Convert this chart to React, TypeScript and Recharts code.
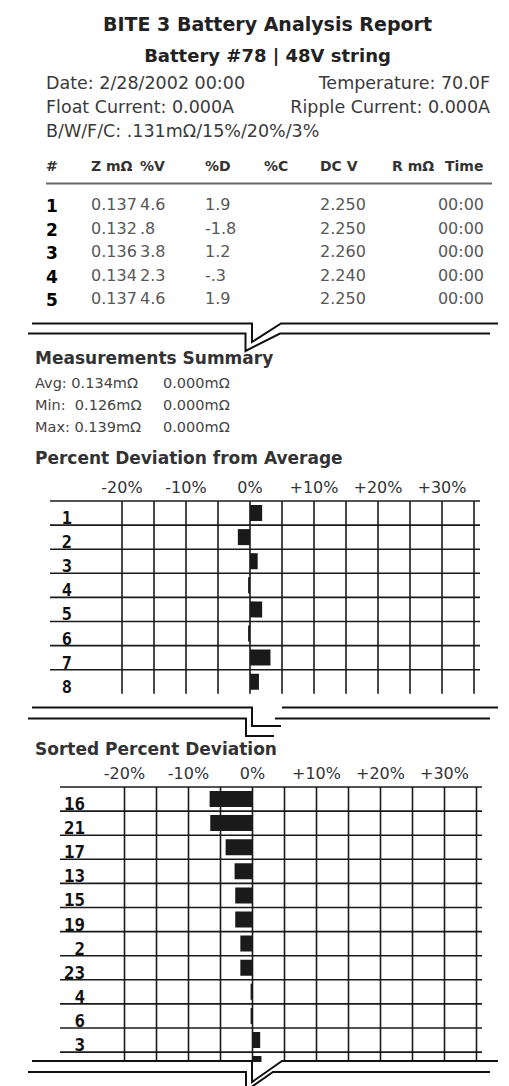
import React from 'react';
import { BarChart, Bar, XAxis, YAxis, CartesianGrid } from 'recharts';

// ---------- data ----------
const reportTitle = 'BITE 3 Battery Analysis Report';
const reportSubtitle = 'Battery #78 | 48V string';
const infoLeft = ['Date: 2/28/2002 00:00', 'Float Current: 0.000A', 'B/W/F/C: .131mΩ/15%/20%/3%'];
const infoRight = ['Temperature: 70.0F', 'Ripple Current: 0.000A'];

const tableHeaders = ['#', 'Z mΩ', '%V', '%D', '%C', 'DC V', 'R mΩ', 'Time'];
const cellNumbers = ['1', '2', '3', '4', '5'];
const impedance = ['0.137', '0.132', '0.136', '0.134', '0.137'];
const percentV = ['4.6', '.8', '3.8', '2.3', '4.6'];
const percentD = ['1.9', '-1.8', '1.2', '-.3', '1.9'];
const dcVolts = ['2.250', '2.250', '2.260', '2.240', '2.250'];
const times = ['00:00', '00:00', '00:00', '00:00', '00:00'];

const summaryTitle = 'Measurements Summary';
const summaryLabels = ['Avg: ', 'Min:  ', 'Max: '];
const summaryZ = ['0.134mΩ', '0.126mΩ', '0.139mΩ'];
const summaryR = ['0.000mΩ', '0.000mΩ', '0.000mΩ'];

const deviationTitle = 'Percent Deviation from Average';
const deviationCells = ['1', '2', '3', '4', '5', '6', '7', '8'];
const deviationValues = [1.9, -1.9, 1.2, -0.3, 1.9, -0.3, 3.2, 1.4];

const sortedTitle = 'Sorted Percent Deviation';
const sortedCells = ['16', '21', '17', '13', '15', '19', '2', '23', '4', '6', '3', '8'];
const sortedValues = [-6.7, -6.6, -4.2, -2.8, -2.7, -2.7, -1.9, -1.9, -0.3, -0.3, 1.2, 1.4];

const axisTicks = [-20, -15, -10, -5, 0, 5, 10, 15, 20, 25, 30, 35];

// ---------- styles ----------
const SANS = '"DejaVu Sans", Verdana, sans-serif';
const MONO = '"DejaVu Sans Mono", monospace';
const INK = '#1a1a1a';

const formatPct = (v: number) => (v % 10 === 0 ? (v > 0 ? '+' : '') + v + '%' : '');

type ChartProps = {
  cells: string[];
  values: number[];
  top: number;
  clipHeight?: number;
  plotLeft: number;
  plotRight: number;
  zeroX: number;
  pxPerPct: number;
  axisHeight: number;
  rowHeight: number;
  labelRight: number;
  labelSize: number;
};

function DeviationChart(p: ChartProps) {
  const data = p.cells.map((cell, i) => ({ cell, value: p.values[i] }));
  const domain: [number, number] = [
    -(p.zeroX - p.plotLeft) / p.pxPerPct,
    (p.plotRight - p.zeroX) / p.pxPerPct,
  ];
  const bottomPad = 6;
  const height = p.axisHeight + p.rowHeight * p.cells.length + bottomPad;
  const visible = p.clipHeight ?? height;
  const rowLines = p.cells.map((_, i) => p.axisHeight + i * p.rowHeight);

  const RowTick = (props: any) => {
    const baseline = props.y + p.rowHeight / 2 - 1;
    if (baseline > visible) return <g />;
    return (
      <text
        x={p.labelRight}
        y={baseline}
        textAnchor="end"
        fontFamily={MONO}
        fontWeight="bold"
        fontSize={p.labelSize}
        fill="#111"
      >
        {props.payload.value}
      </text>
    );
  };
  const PctTick = (props: any) => {
    const label = formatPct(props.payload.value);
    return (
      <text x={props.x} y={props.y} textAnchor="middle" fontFamily={SANS} fontSize={16} fill="#333">
        {label}
      </text>
    );
  };
  const verticalGen = (args: any) => {
    const sc = args && args.xAxis && args.xAxis.scale;
    return axisTicks.map((t) =>
      typeof sc === 'function' ? sc(t) : p.zeroX + t * p.pxPerPct
    );
  };

  return (
    <div
      style={{
        position: 'absolute',
        left: 0,
        top: p.top,
        width: 509,
        height: visible,
        overflow: 'hidden',
      }}
    >
      <BarChart
        width={509}
        height={height}
        data={data}
        layout="vertical"
        margin={{ top: 0, right: 509 - p.plotRight, bottom: bottomPad, left: 0 }}
      >
        <CartesianGrid
          stroke={INK}
          strokeWidth={1.6}
          horizontalPoints={rowLines}
          verticalCoordinatesGenerator={verticalGen}
        />
        <XAxis
          type="number"
          orientation="top"
          domain={domain}
          allowDataOverflow
          ticks={axisTicks}
          interval={0}
          height={p.axisHeight}
          axisLine={false}
          tickLine={false}
          tick={<PctTick />}
        />
        <YAxis
          type="category"
          dataKey="cell"
          width={p.plotLeft}
          interval={0}
          axisLine={false}
          tickLine={false}
          tick={<RowTick />}
        />
        <Bar dataKey="value" fill={INK} barSize={16} isAnimationActive={false} />
      </BarChart>
    </div>
  );
}

const headerX = [46, 91, 140, 205, 264, 320, 392, 445];

export default function App() {
  const rowBase = (i: number) => 210 + i * 23.5;
  const summaryBase = (i: number) => 388 + i * 22;
  return (
    <div
      style={{
        position: 'absolute',
        left: 0,
        top: 0,
        width: 509,
        height: 1086,
        background: '#fff',
        overflow: 'hidden',
      }}
    >
      <DeviationChart
        cells={deviationCells}
        values={deviationValues}
        top={471}
        plotLeft={50}
        plotRight={480}
        zeroX={250}
        pxPerPct={6.4}
        axisHeight={30}
        rowHeight={24.1}
        labelRight={72}
        labelSize={17}
      />
      <DeviationChart
        cells={sortedCells}
        values={sortedValues}
        top={757}
        clipHeight={305}
        plotLeft={60}
        plotRight={482}
        zeroX={252.5}
        pxPerPct={6.4}
        axisHeight={30}
        rowHeight={24.1}
        labelRight={85}
        labelSize={17.5}
      />
      <svg
        width={509}
        height={1086}
        style={{ position: 'absolute', left: 0, top: 0, pointerEvents: 'none' }}
      >
        <g fontFamily={SANS}>
          <text x={267.5} y={31} textAnchor="middle" fontWeight="bold" fontSize={19} fill="#222">
            {reportTitle}
          </text>
          <text x={267.5} y={61.5} textAnchor="middle" fontWeight="bold" fontSize={18} fill="#222">
            {reportSubtitle}
          </text>
          {infoLeft.map((t, i) => (
            <text key={'l' + i} x={46} y={89 + i * 24.2} fontSize={17.5} fill="#3a3a3a">
              {t}
            </text>
          ))}
          {infoRight.map((t, i) => (
            <text key={'r' + i} x={490} y={89 + i * 24.2} textAnchor="end" fontSize={17.5} fill="#3a3a3a">
              {t}
            </text>
          ))}
          {tableHeaders.map((h, i) => (
            <text key={'h' + i} x={headerX[i]} y={170.5} fontWeight="bold" fontSize={14} fill="#333">
              {h}
            </text>
          ))}
          <line x1={46} x2={492} y1={183.5} y2={183.5} stroke="#666" strokeWidth={2} />
          {cellNumbers.map((c, i) => (
            <g key={'row' + i}>
              <text x={46} y={rowBase(i) + 2} fontWeight="bold" fontSize={17} fill="#000">
                {c}
              </text>
              <text x={91} y={rowBase(i)} fontSize={16} fill="#585858">
                {impedance[i]}
              </text>
              <text x={140} y={rowBase(i)} fontSize={16} fill="#585858">
                {percentV[i]}
              </text>
              <text x={205} y={rowBase(i)} fontSize={16} fill="#585858">
                {percentD[i]}
              </text>
              <text x={320} y={rowBase(i)} fontSize={16} fill="#585858">
                {dcVolts[i]}
              </text>
              <text x={484} y={rowBase(i)} textAnchor="end" fontSize={16} fill="#585858">
                {times[i]}
              </text>
            </g>
          ))}
          <text x={35} y={364} fontWeight="bold" fontSize={17} fill="#333">
            {summaryTitle}
          </text>
          {summaryLabels.map((l, i) => (
            <g key={'s' + i}>
              <text x={35} y={summaryBase(i)} fontSize={14.5} fill="#444" style={{ whiteSpace: 'pre' }}>
                {l + summaryZ[i]}
              </text>
              <text x={163} y={summaryBase(i)} fontSize={14.5} fill="#444">
                {summaryR[i]}
              </text>
            </g>
          ))}
          <text x={35} y={464} fontWeight="bold" fontSize={17} fill="#333">
            {deviationTitle}
          </text>
          <text x={35} y={755} fontWeight="bold" fontSize={17} fill="#333">
            {sortedTitle}
          </text>
        </g>
        <g fill="none" stroke="#111" strokeWidth={2}>
          <path d="M32 323.5 H252 V342 L281 323.5 H498" />
          <path d="M28 333.5 H245.5 V351 L280 333.5 H490" />
          <path d="M32 707.5 H252 V726 H281 M282 707.5 H498" />
          <path d="M28 718.5 H246 V736 H274 M275 718.5 H490" />
          <path d="M32 1061 H252 V1082 L282 1061 H498" />
          <path d="M28 1072 H246 V1088 M250 1088 L273 1072 H490" />
        </g>
      </svg>
    </div>
  );
}
